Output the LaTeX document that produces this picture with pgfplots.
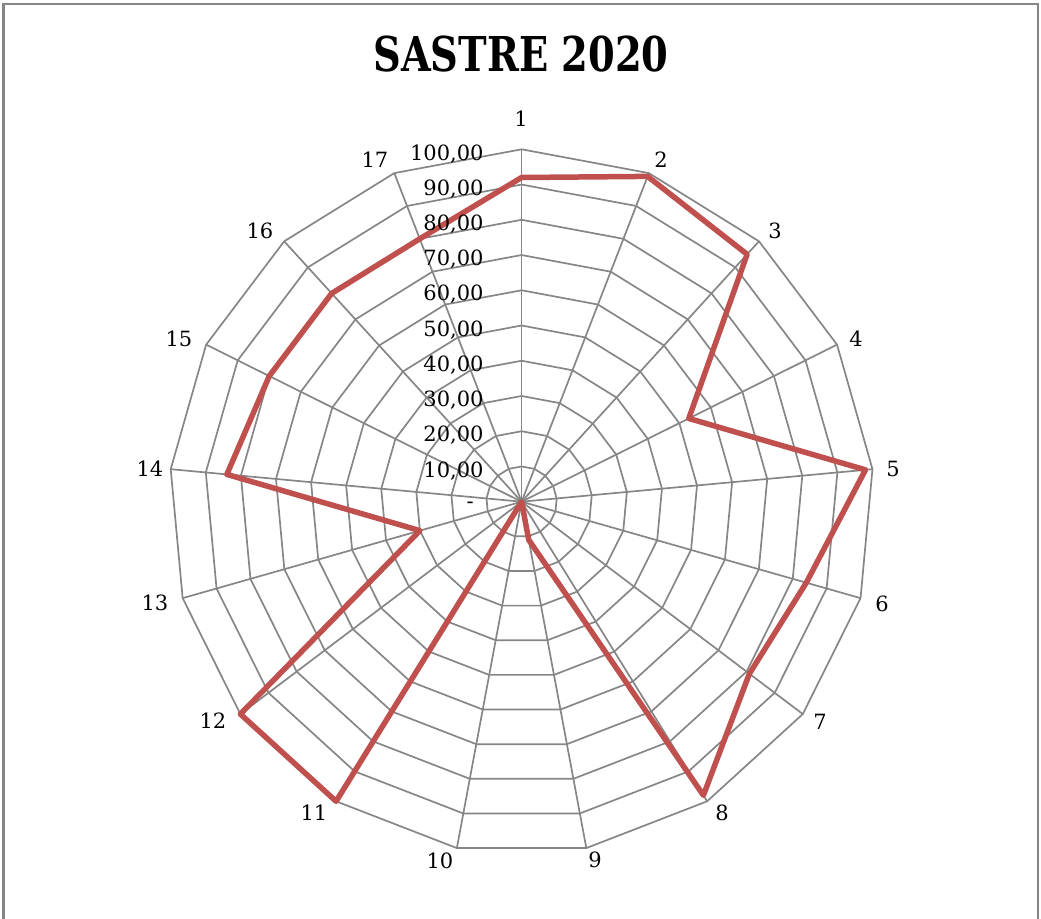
\documentclass[border=0pt]{standalone}
\usepackage{pgfplots}
\pgfplotsset{compat=1.18}
\usepgfplotslibrary{polar}
\usepackage{fontspec}
\setmainfont{DejaVu Serif}
\newfontfamily\titlefont[FakeStretch=0.8]{DejaVu Serif}
\definecolor{gridc}{RGB}{134,134,134}
\definecolor{sred}{RGB}{192,80,77}
\begin{document}
\begin{tikzpicture}[x=1pt,y=1pt]
\path[use as bounding box] (0,0) rectangle (520.5,459);
\draw[gridc, line width=1pt] (1.75,-3) -- (1.75,457) -- (518.75,457) -- (518.75,-3);
\node[anchor=base, inner sep=0] at (260.5,423) {\titlefont\bfseries\fontsize{24}{28}\selectfont SASTRE 2020};
\begin{polaraxis}[
  at={(260.8pt,208.15pt)}, anchor=center,
  scale only axis, width=352.4pt, height=352.4pt,
  hide axis, xmin=0, xmax=360, ymin=0, ymax=100, clip=false]
\pgfplotsextra{
  \foreach \r in {10,20,...,100} {
    \draw[gridc, line width=0.85pt, line join=miter] (axis cs:90,\r)
      \foreach \k [evaluate=\k as \a using {90-\k*360/17}] in {1,...,16} { -- (axis cs:\a,\r) } -- cycle;
  }
  \foreach \k [evaluate=\k as \a using {90-\k*360/17}] in {0,...,16} {
    \draw[gridc, line width=0.85pt] (axis cs:0,0) -- (axis cs:\a,100);
  }
}
\addplot[sred, line width=2.75pt, line join=round, line cap=round] coordinates {
  (90,92) (68.8235,99) (47.6471,95) (26.4706,53) (5.2941,98)
  (344.1176,84) (322.9412,81) (301.7647,98) (280.5882,11) (259.4118,0)
  (238.2353,100) (217.0588,100) (195.8824,30) (174.7059,84) (153.5294,80)
  (132.3529,80) (111.1765,80) (90,92)};
\end{polaraxis}
\begin{scope}[every node/.style={inner sep=0, font=\fontsize{10.5}{12}\selectfont}]
\node at (260.5,399.5) {1};
\node at (330.5,379) {2};
\node at (387.5,343.5) {3};
\node at (428,289.5) {4};
\node at (446.5,224.5) {5};
\node at (441,157) {6};
\node at (410,98) {7};
\node at (361,52.5) {8};
\node at (297.5,29) {9};
\node at (220,28.5) {10};
\node at (157,52.5) {11};
\node at (106.5,98.5) {12};
\node at (77.5,157.5) {13};
\node at (75,224.5) {14};
\node at (89.5,289.5) {15};
\node at (130,343.5) {16};
\node at (187.5,379) {17};
\end{scope}
\begin{scope}[every node/.style={inner sep=0, anchor=east, text depth=0pt, font=\fontsize{10.5}{12}\selectfont}]
\node at (242,382.85) {100,00};
\node at (242,365.2) {90,00};
\node at (242,347.6) {80,00};
\node at (242,330) {70,00};
\node at (242,312.4) {60,00};
\node at (242,294.75) {50,00};
\node at (242,277.1) {40,00};
\node at (242,259.5) {30,00};
\node at (242,241.9) {20,00};
\node at (242,224.3) {10,00};
\node at (237,206.5) {-};
\end{scope}
\end{tikzpicture}
\end{document}
